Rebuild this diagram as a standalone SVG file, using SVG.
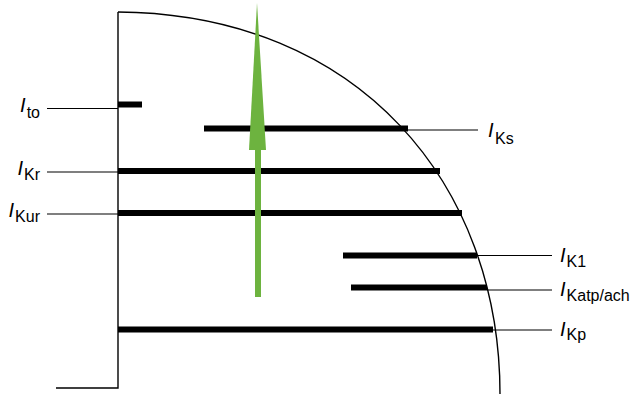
<svg xmlns="http://www.w3.org/2000/svg" width="638" height="394" viewBox="0 0 638 394">
<style>
.thin{stroke:#000;stroke-width:1.2;fill:none}
.axis{stroke:#000;stroke-width:1.4;fill:none}
.bar{stroke:#000;stroke-width:6;fill:none}
.lbl{font-family:"Liberation Sans",Arial,sans-serif;fill:#000}
.i{font-style:italic;font-size:20px}
.s{font-size:16px}
</style>
<rect width="638" height="394" fill="#fff"/>
<g id="axes">
<path class="axis" d="M56,388 H118 V12"/>
<path class="axis" d="M118,12 C360,14 500,185 500,394"/>
</g>
<g id="connectors">
<line class="thin" x1="47" y1="108.5" x2="118" y2="108.5"/>
<line class="thin" x1="47" y1="172" x2="118" y2="172"/>
<line class="thin" x1="47" y1="214" x2="118" y2="214"/>
<line class="thin" x1="408" y1="130" x2="478" y2="130"/>
<line class="thin" x1="477" y1="255.5" x2="552" y2="255.5"/>
<line class="thin" x1="487" y1="290" x2="552" y2="290"/>
<line class="thin" x1="493" y1="330" x2="552" y2="330"/>
</g>
<g id="bars">
<line class="bar" x1="118" y1="104.5" x2="142" y2="104.5" stroke-width="7"/>
<line class="bar" x1="204" y1="128.5" x2="408" y2="128.5"/>
<line class="bar" x1="118" y1="171" x2="440" y2="171"/>
<line class="bar" x1="118" y1="213" x2="462" y2="213"/>
<line class="bar" x1="343" y1="255.5" x2="477" y2="255.5"/>
<line class="bar" x1="351" y1="287.5" x2="487" y2="287.5"/>
<line class="bar" x1="118" y1="329.5" x2="493" y2="329.5"/>
</g>
<g id="arrow">
<rect x="255" y="148" width="6" height="149" fill="#6db33f"/>
<polygon points="257,3 249,150 266,150" fill="#6db33f"/>
</g>
<g id="label-Ito"><text class="lbl" x="40" y="112" text-anchor="end"><tspan class="i">I</tspan><tspan class="s" dx="1" dy="6">to</tspan></text></g>
<g id="label-IKr"><text class="lbl" x="40" y="175" text-anchor="end"><tspan class="i">I</tspan><tspan class="s" dx="1" dy="5">Kr</tspan></text></g>
<g id="label-IKur"><text class="lbl" x="40" y="217" text-anchor="end"><tspan class="i">I</tspan><tspan class="s" dx="1" dy="5">Kur</tspan></text></g>
<g id="label-IKs"><text class="lbl" x="488" y="137"><tspan class="i">I</tspan><tspan class="s" dx="1.5" dy="7">Ks</tspan></text></g>
<g id="label-IK1"><text class="lbl" x="560" y="262"><tspan class="i">I</tspan><tspan class="s" dx="1" dy="5">K1</tspan></text></g>
<g id="label-IKatp"><text class="lbl" x="560" y="296"><tspan class="i">I</tspan><tspan class="s" dx="1" dy="5">Katp/ach</tspan></text></g>
<g id="label-IKp"><text class="lbl" x="560" y="336"><tspan class="i">I</tspan><tspan class="s" dx="1" dy="4">Kp</tspan></text></g>
</svg>
